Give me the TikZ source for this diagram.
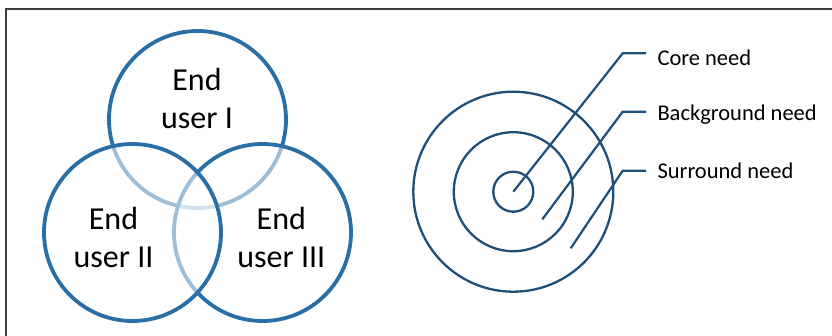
\documentclass[tikz,border=0pt]{standalone}
\usepackage{fontspec}
\setmainfont{Carlito}
\definecolor{vennblue}{HTML}{2A6EA6}
\definecolor{navyline}{HTML}{1F4E79}
\definecolor{framegray}{HTML}{404040}
\begin{document}
\begin{tikzpicture}[x=1pt,y=-1pt,
  vennc/.style={circle,draw=vennblue,line width=3.8pt,fill=white,fill opacity=0.55,minimum size=177pt,inner sep=0pt},
  vtext/.style={align=center,font=\fontsize{32}{38}\selectfont,inner sep=0pt},
  ring/.style={circle,draw=navyline,line width=2.3pt,inner sep=0pt},
  leader/.style={draw=navyline,line width=2.2pt},
  lab/.style={anchor=base west,inner sep=0pt,font=\fontsize{22.5}{27}\selectfont}]
\useasboundingbox (0,0) rectangle (832,335);
\clip (0,0) rectangle (832,335);
\draw[framegray,line width=1.5pt] (6,9) rectangle (900,400);
% Venn diagram
\node[vennc] (u1) at (197.5,119.5) {};
\node[vennc] (u3) at (262.5,232.5) {};
\node[vennc] (u2) at (132.5,232.5) {};
\node[vtext] (t1) at (197,98.4) {End\\user I};
\node[vtext] (t2) at (113.5,237.4) {End\\user II};
\node[vtext] (t3) at (281.3,237.4) {End\\user III};
% concentric needs
\node[ring,minimum size=200pt] (r3) at (513.3,191.7) {};
\node[ring,minimum size=119pt] (r2) at (513.3,191.7) {};
\node[ring,minimum size=40pt] (r1) at (513.3,191.7) {};
\coordinate (s2) at (542.3,219.3);
\coordinate (s3) at (570.7,248.3);
\coordinate (k1) at (622.7,53.3);
\coordinate (k2) at (622.7,111.7);
\coordinate (k3) at (622.7,170.7);
\coordinate (e1) at (646,53.3);
\coordinate (e2) at (646,111.7);
\coordinate (e3) at (646,170.7);
\draw[leader] (r1.center) -- (k1) -- (e1);
\draw[leader] (s2) -- (k2) -- (e2);
\draw[leader] (s3) -- (k3) -- (e3);
\node[lab] (l1) at (657.3,65) {Core need};
\node[lab] (l2) at (657.3,120) {Background need};
\node[lab] (l3) at (657.3,178.3) {Surround need};
\end{tikzpicture}
\end{document}
